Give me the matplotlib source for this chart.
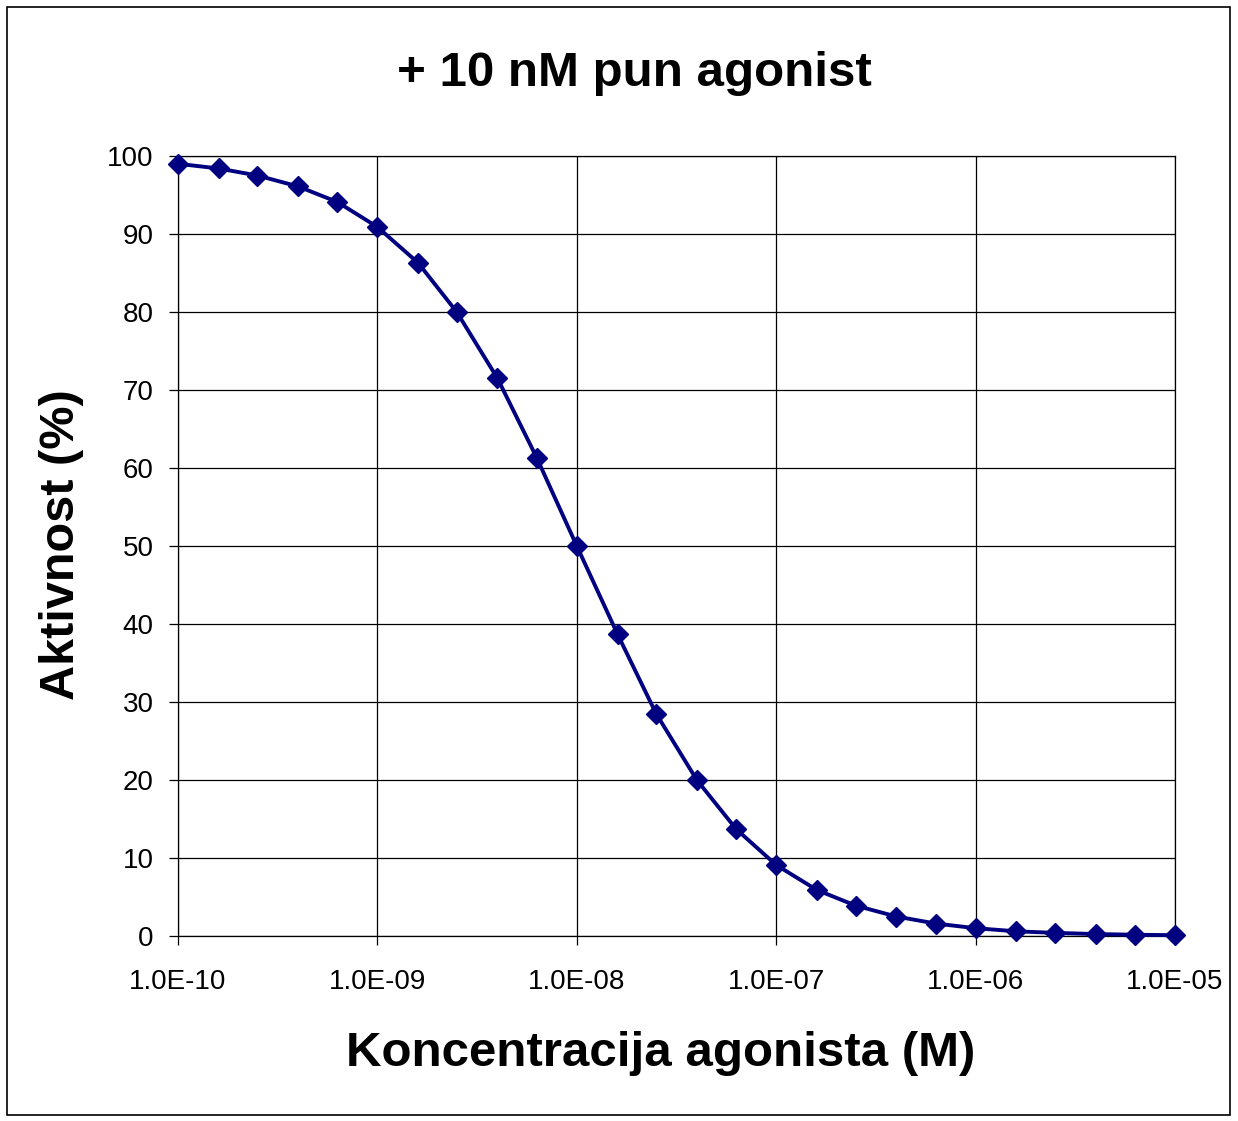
import matplotlib
matplotlib.use("Agg")
import math
import matplotlib.pyplot as plt
from matplotlib.patches import Rectangle
from matplotlib.ticker import FixedLocator, FuncFormatter, NullLocator

plt.rcParams['font.family'] = ['Liberation Sans', 'DejaVu Sans']

# koncentracija (M), 5 tocaka po dekadi
konc = [1.0e-10, 1.6e-10, 2.5e-10, 4.0e-10, 6.3e-10,
        1.0e-09, 1.6e-09, 2.5e-09, 4.0e-09, 6.3e-09,
        1.0e-08, 1.6e-08, 2.5e-08, 4.0e-08, 6.3e-08,
        1.0e-07, 1.6e-07, 2.5e-07, 4.0e-07, 6.3e-07,
        1.0e-06, 1.6e-06, 2.5e-06, 4.0e-06, 6.3e-06,
        1.0e-05]
aktivnost = [99.0, 98.4, 97.5, 96.1, 94.1,
             90.9, 86.3, 80.0, 71.5, 61.3,
             50.0, 38.7, 28.5, 20.0, 13.7,
             9.1, 5.9, 3.9, 2.5, 1.6,
             1.0, 0.6, 0.4, 0.25, 0.16,
             0.1]
x_ticks = [1e-10, 1e-9, 1e-8, 1e-7, 1e-6, 1e-5]
y_ticks = [0, 10, 20, 30, 40, 50, 60, 70, 80, 90, 100]

fig = plt.figure(figsize=(12.38, 11.21), dpi=100)
ax = fig.add_axes([178/1238, 1 - 936/1121, (1175-178)/1238, (936-156)/1121])

ax.plot(konc, aktivnost, color='#000080', lw=2.8, marker='D', ms=10.5,
        clip_on=False, zorder=5)

ax.set_xscale('log')
ax.set_xlim(1e-10, 1e-5)
ax.set_ylim(0, 100)
ax.xaxis.set_major_locator(FixedLocator(x_ticks))
ax.xaxis.set_minor_locator(NullLocator())
ax.xaxis.set_major_formatter(FuncFormatter(lambda v, p: "1.0E-%02d" % round(-math.log10(v))))
ax.set_yticks(y_ticks)

ax.grid(True, color='black', lw=0.9)
for s in ax.spines.values():
    s.set_linewidth(0.9)
ax.tick_params(axis='both', direction='out', length=6.5, width=0.9, labelsize=20)
ax.tick_params(axis='x', pad=17)
ax.tick_params(axis='y', pad=11)

fig.text(634.5/1238, 1 - 73/1121, "+ 10 nM pun agonist", ha='center', va='center',
         fontsize=35.5, fontweight='bold')
fig.text(661/1238, 1 - 1053/1121, "Koncentracija agonista (M)", ha='center', va='center',
         fontsize=35.5, fontweight='bold')
fig.text(62/1238, 1 - 545/1121, "Aktivnost (%)", ha='center', va='center',
         rotation=90, fontsize=35, fontweight='bold')

fig.patches.append(Rectangle((7/1238, 1 - 1115/1121), (1230-7)/1238, (1115-7)/1121,
                             transform=fig.transFigure, fill=False, ec='black', lw=1.2))

fig.savefig("out.png", dpi=100)
